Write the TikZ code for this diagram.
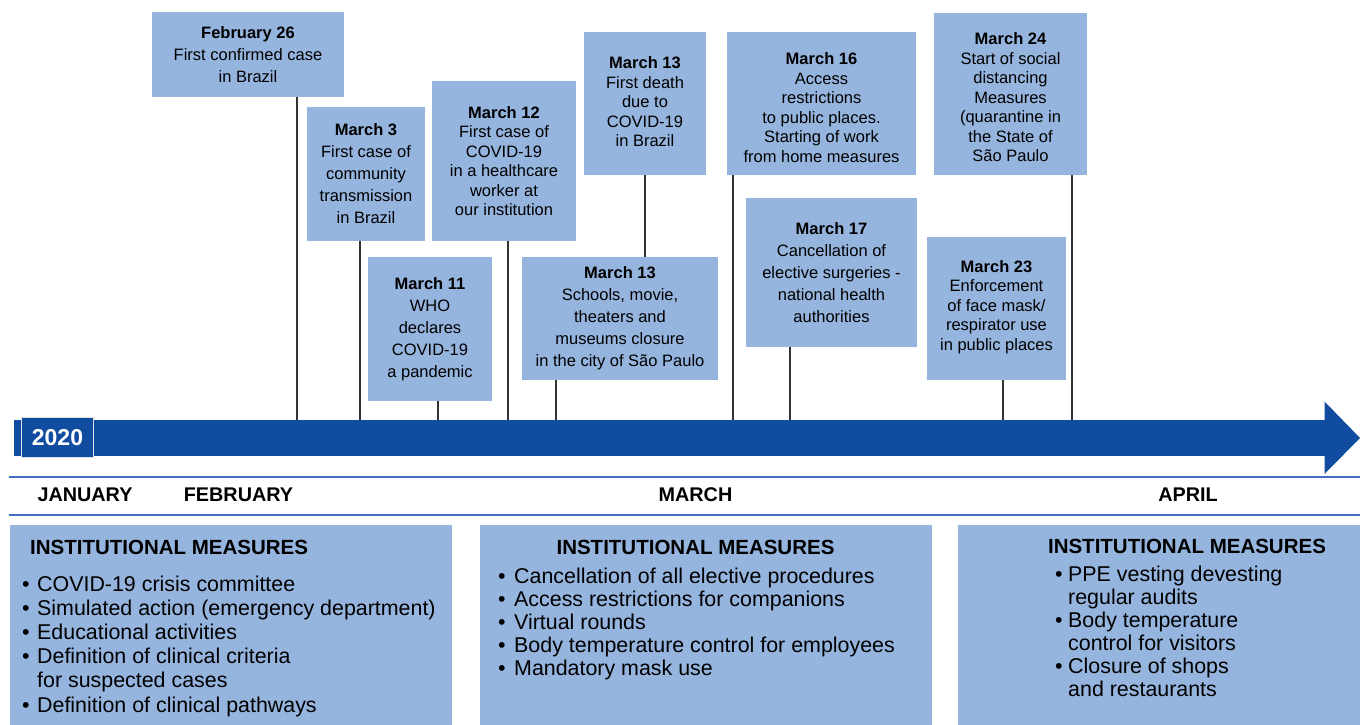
\documentclass[tikz,border=0pt]{standalone}
\usepackage{fontspec}
\setmainfont{Liberation Sans}
\usetikzlibrary{calc}
\definecolor{boxblue}{RGB}{149,180,222}
\definecolor{tlblue}{RGB}{16,76,160}
\definecolor{rulecol}{RGB}{68,110,192}
\definecolor{tickcol}{RGB}{50,50,50}
\begin{document}
\begin{tikzpicture}[x=1pt,y=-1pt,
  evbox/.style={fill=boxblue, inner sep=0, outer sep=0},
  evtext/.style={align=center, inner sep=0, font=\fontsize{16.5}{22}\selectfont},
  evtextb/.style={align=center, inner sep=0, font=\fontsize{16.5}{19.5}\selectfont},
  tickline/.style={draw=tickcol, line width=2.5pt},
  month/.style={inner sep=0, font=\bfseries\fontsize{19.8}{21}\selectfont},
  imhead/.style={inner sep=0, font=\bfseries\fontsize{20.5}{24}\selectfont},
  imlist/.style={inner sep=0, align=left}
]
\useasboundingbox (0,0) rectangle (1360,725);

% ---------- event boxes ----------
\node[evbox, minimum width=192, minimum height=85] (feb26) at (248,54.5) {};
\node[evtext] (feb26t) at (feb26.center) {\textbf{February 26}\\First confirmed case\\in Brazil};

\node[evbox, minimum width=118, minimum height=134] (mar3) at (366,174) {};
\node[evtext] (mar3t) at (mar3.center) {\textbf{March 3}\\First case of\\community\\transmission\\in Brazil};

\node[evbox, minimum width=144, minimum height=160] (mar12) at (504,161) {};
\node[evtextb] (mar12t) at (mar12.center) {\textbf{March 12}\\First case of\\COVID-19\\in a healthcare\\worker at\\our institution};

\node[evbox, minimum width=124, minimum height=144] (mar11) at (430,329) {};
\node[evtext] (mar11t) at (mar11.center) {\textbf{March 11}\\WHO\\declares\\COVID-19\\a pandemic};

\node[evbox, minimum width=122, minimum height=143] (mar13a) at (645,103.5) {};
\node[evtextb] (mar13at) at ($(mar13a.center)+(0,-1.5)$) {\textbf{March 13}\\First death\\due to\\COVID-19\\in Brazil};

\node[evbox, minimum width=196, minimum height=123] (mar13b) at (620,318.5) {};
\node[evtext] (mar13bt) at (mar13b.center) {\textbf{March 13}\\Schools, movie,\\theaters and\\museums closure\\in the city of São Paulo};

\node[evbox, minimum width=189, minimum height=143] (mar16) at (821.5,103.5) {};
\node[evtextb] (mar16t) at ($(mar16.center)+(0,4)$) {\textbf{March 16}\\Access\\restrictions\\to public places.\\Starting of work\\from home measures};

\node[evbox, minimum width=171, minimum height=149] (mar17) at (831.5,272.5) {};
\node[evtext] (mar17t) at (mar17.center) {\textbf{March 17}\\Cancellation of\\elective surgeries -\\national health\\authorities};

\node[evbox, minimum width=153, minimum height=162] (mar24) at (1010.5,94) {};
\node[evtextb] (mar24t) at ($(mar24.center)+(0,3.5)$) {\textbf{March 24}\\Start of social\\distancing\\Measures\\(quarantine in\\the State of\\São Paulo};

\node[evbox, minimum width=139, minimum height=143] (mar23) at (996.5,308.5) {};
\node[evtextb] (mar23t) at ($(mar23.center)+(0,-1.5)$) {\textbf{March 23}\\Enforcement\\of face mask/\\respirator use\\in public places};

% ---------- timeline ----------
\node[fill=tlblue, inner sep=0, outer sep=0, minimum width=1311, minimum height=36] (bar) at (669.5,438) {};
\fill[tlblue] ($(bar.east)+(-0.5,-36.5)$) -- ($(bar.east)+(35,0)$) -- ($(bar.east)+(-0.5,36)$) -- cycle;
\node[fill=tlblue, draw=white!75!gray, line width=1.5pt, minimum width=72, minimum height=40, inner sep=0, text=white, font=\bfseries\fontsize{23}{23}\selectfont] (yr) at (57.5,437.5) {2020};

% ---------- connectors ----------
\coordinate (c1) at ($(feb26.south west)+(145,0)$);
\coordinate (c2) at ($(mar3.south west)+(53,0)$);
\coordinate (c3) at ($(mar11.south west)+(70,0)$);
\coordinate (c4) at ($(mar12.south west)+(76,0)$);
\coordinate (c5) at ($(mar13a.south west)+(61,0)$);
\coordinate (c6) at ($(mar13b.south west)+(34,0)$);
\coordinate (c7) at ($(mar16.south west)+(6,0)$);
\coordinate (c8) at ($(mar17.south west)+(44,0)$);
\coordinate (c9) at ($(mar23.south west)+(76,0)$);
\coordinate (c10) at ($(mar24.south west)+(138,0)$);
\foreach \c in {c1,c2,c3,c4,c6,c7,c8,c9,c10}{
  \draw[tickline] (\c) -- (\c |- bar.north);
}
\draw[tickline] (c5) -- (c5 |- mar13b.north);

% ---------- month band ----------
\coordinate (r1a) at (9,477);
\coordinate (r1b) at (1360,477);
\coordinate (r2a) at (9,515);
\coordinate (r2b) at (1360,515);
\draw[rulecol, line width=2pt] (r1a) -- (r1b);
\draw[rulecol, line width=2pt] (r2a) -- (r2b);
\node[month] (jan) at (85,495) {JANUARY};
\node[month] (feb) at (238.5,495) {FEBRUARY};
\node[month] (mar) at (695.5,495) {MARCH};
\node[month] (apr) at (1188,495) {APRIL};

% ---------- institutional measures ----------
\node[evbox, anchor=north west, minimum width=442, minimum height=200] (im1) at (10,525) {};
\node[evbox, anchor=north west, minimum width=452, minimum height=200] (im2) at (480,525) {};
\node[evbox, anchor=north west, minimum width=402, minimum height=200] (im3) at (958,525) {};

\node[imhead, anchor=base west] (im1h) at (30,554) {INSTITUTIONAL MEASURES};
\node[imhead, anchor=base] (im2h) at (695.5,554) {INSTITUTIONAL MEASURES};
\node[imhead, anchor=base] (im3h) at (1187,553) {INSTITUTIONAL MEASURES};

\node[imlist, anchor=base west, font=\fontsize{21.4}{24.2}\selectfont] (im1l) at (22,591) {%
\begin{tabular}[t]{@{}p{15pt}@{}l@{}}
\textbullet & COVID-19 crisis committee\\
\textbullet & Simulated action (emergency department)\\
\textbullet & Educational activities\\
\textbullet & Definition of clinical criteria\\
 & for suspected cases\\
\textbullet & Definition of clinical pathways
\end{tabular}};

\node[imlist, anchor=base west, font=\fontsize{21.4}{23}\selectfont] (im2l) at (498,583) {%
\begin{tabular}[t]{@{}p{16pt}@{}l@{}}
\textbullet & Cancellation of all elective procedures\\
\textbullet & Access restrictions for companions\\
\textbullet & Virtual rounds\\
\textbullet & Body temperature control for employees\\
\textbullet & Mandatory mask use
\end{tabular}};

\node[imlist, anchor=base west, font=\fontsize{21.4}{23}\selectfont] (im3l) at (1055,581) {%
\begin{tabular}[t]{@{}p{13pt}@{}l@{}}
\textbullet & PPE vesting devesting\\
 & regular audits\\
\textbullet & Body temperature\\
 & control for visitors\\
\textbullet & Closure of shops\\
 & and restaurants
\end{tabular}};
\end{tikzpicture}
\end{document}
